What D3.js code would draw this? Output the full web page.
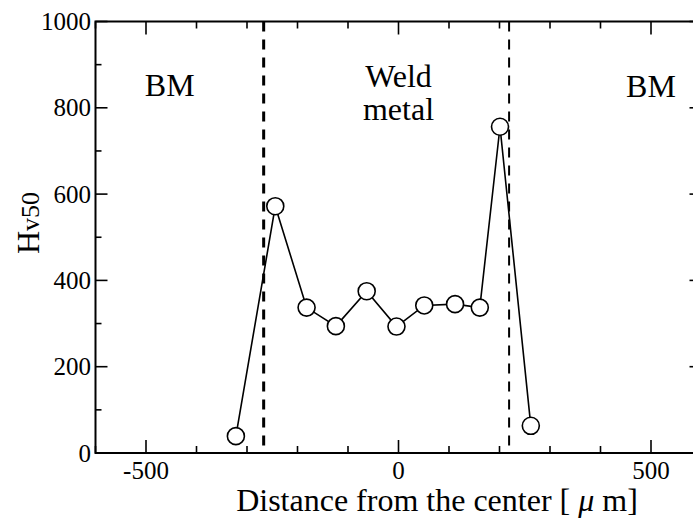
<!DOCTYPE html>
<html><head><meta charset="utf-8"><script src="https://cdn.jsdelivr.net/npm/d3@7"></script></head>
<body style="margin:0;overflow:hidden">
<svg id="chart" width="693" height="525"></svg>
<script>
// Data
const distance = [-322, -244, -182, -124, -63, -4, 51, 112, 161, 201, 262];
const hardness = [39, 572, 337, 294, 375, 293, 342, 345, 337, 756, 63];
const boundaries = [-267, 219];
const xTickValues = [-500, 0, 500];
const yTickValues = [0, 200, 400, 600, 800, 1000];
const regionLabels = [
  {text: ["BM"], x: -453, y: 827},
  {text: ["Weld", "metal"], x: 0, y: 848},
  {text: ["BM"], x: 500, y: 825}
];

const FONT = '"Liberation Serif"';
const svg = d3.select("#chart");
const margin = {left: 95.5, top: 21.5, right: 701.5, bottom: 453};
const x = d3.scaleLinear().domain([-600, 600]).range([margin.left, margin.right]);
const y = d3.scaleLinear().domain([0, 1000]).range([margin.bottom, margin.top]);

const xMinor = d3.range(-600, 601, 100);
const yMinor = d3.range(0, 1001, 100);

// Frame
svg.append("rect").attr("x", x(-600)).attr("y", y(1000))
  .attr("width", x(600) - x(-600)).attr("height", y(0) - y(1000))
  .attr("stroke", "#000").attr("stroke-width", 2).attr("fill", "none");

// Ticks
const ticks = svg.append("g").attr("stroke", "#000").attr("stroke-width", 1.6);
xMinor.forEach(v => {
  const len = (v % 500 === 0) ? 13 : 7;
  ticks.append("line").attr("x1", x(v)).attr("x2", x(v)).attr("y1", y(0)).attr("y2", y(0) - len);
  ticks.append("line").attr("x1", x(v)).attr("x2", x(v)).attr("y1", y(1000)).attr("y2", y(1000) + len);
});
yMinor.forEach(v => {
  const len = (v % 200 === 0) ? 12 : 6;
  ticks.append("line").attr("y1", y(v)).attr("y2", y(v)).attr("x1", x(-600)).attr("x2", x(-600) + len);
  ticks.append("line").attr("y1", y(v)).attr("y2", y(v)).attr("x1", x(600)).attr("x2", x(600) - len);
});

// Boundaries
svg.append("g").selectAll("line").data(boundaries).join("line")
  .attr("x1", d => x(d)).attr("x2", d => x(d)).attr("y1", y(1000)).attr("y2", y(0))
  .attr("stroke", "#000").attr("stroke-width", (d, i) => i === 0 ? 3 : 2)
  .attr("stroke-dasharray", "10,8");

// Line
const line = d3.line().x((d, i) => x(distance[i])).y((d, i) => y(hardness[i]));
svg.append("path").datum(hardness).attr("d", line)
  .attr("fill", "none").attr("stroke", "#000").attr("stroke-width", 1.6);
svg.append("g").selectAll("circle").data(hardness).join("circle")
  .attr("cx", (d, i) => x(distance[i])).attr("cy", d => y(d)).attr("r", 8.5)
  .attr("fill", "#fff").attr("stroke", "#000").attr("stroke-width", 1.6);

// Tick labels
svg.selectAll("text.xt").data(xTickValues).join("text").attr("class", "xt")
  .attr("x", d => x(d)).attr("y", 479).attr("text-anchor", "middle")
  .attr("font-size", 25).style("font-family", FONT).text(d => d);
svg.selectAll("text.yt").data(yTickValues).join("text").attr("class", "yt")
  .attr("x", 91).attr("y", d => y(d) + 8.5).attr("text-anchor", "end")
  .attr("font-size", 25).style("font-family", FONT).text(d => d);

// Region labels
const lines = [];
regionLabels.forEach(r => r.text.forEach((s, i) => lines.push({s, x: r.x, y: r.y, i})));
svg.selectAll("text.rl").data(lines).join("text").attr("class", "rl")
  .attr("x", d => x(d.x)).attr("y", d => y(d.y) + d.i * 33).attr("text-anchor", "middle")
  .attr("font-size", 32).style("font-family", FONT).text(d => d.s);

// Axis titles
const xt = svg.append("text")
  .attr("x", 437).attr("y", 511).attr("text-anchor", "middle").attr("font-size", 32).style("font-family", FONT);
xt.append("tspan").text("Distance from the center [ ");
xt.append("tspan").attr("font-style", "italic").text("μ");
xt.append("tspan").text(" m]");

const yt = svg.append("text").style("font-family", FONT)
  .attr("transform", "translate(39,223) rotate(-90)").attr("text-anchor", "middle");
yt.append("tspan").attr("font-size", 32).text("H");
yt.append("tspan").attr("font-size", 26).text("v50");
</script>
</body>
</html>
